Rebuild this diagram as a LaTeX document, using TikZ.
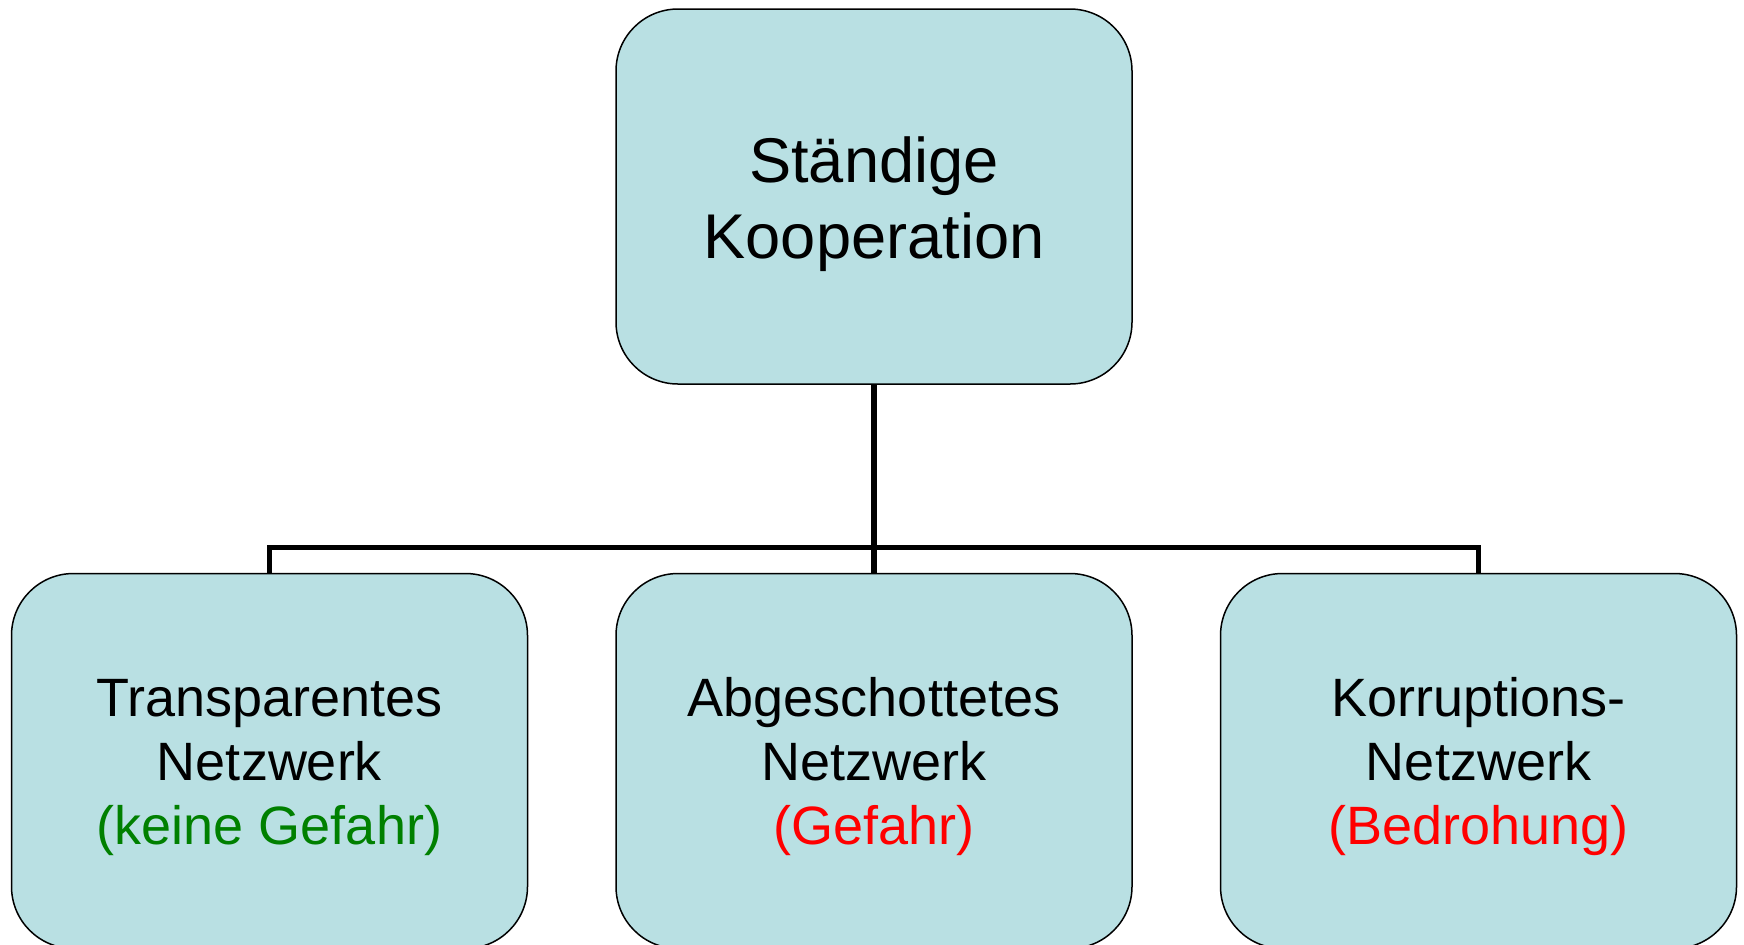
\documentclass[tikz,border=0pt]{standalone}
\usepackage{fontspec}
\setmainfont{Liberation Sans}
\usetikzlibrary{positioning}
\definecolor{kastenblau}{RGB}{185,224,227}
\definecolor{gruen}{RGB}{0,128,0}
\definecolor{rot}{RGB}{255,0,0}

\begin{document}
\begin{tikzpicture}[
kasten/.style={
    draw,
    line width=0.75pt,
    fill=kastenblau,
    rounded corners=31pt,
    align=center,
    minimum width=258pt,
    minimum height=187.5pt,
    inner sep=0pt
},
oben/.style={
    kasten,
    font=\fontsize{31.6}{38}\selectfont
},
unten/.style={
    kasten,
    font=\fontsize{27}{32}\selectfont
},
linie/.style={
    line width=2.6pt
}
]

\useasboundingbox (0,0) rectangle (872pt,-472pt);

% Oberer Kasten
\node[oben] (kooperation) at (437pt,-98.25pt) {
\rule{0pt}{31pt}Ständige\\
Kooperation
};

% Untere Kaesten
\node[unten, below=94pt of kooperation] (abgeschottet) {
\rule{0pt}{25pt}Abgeschottetes\\
Netzwerk\\
\textcolor{rot}{(Gefahr)}
};

\node[unten, left=43.5pt of abgeschottet] (transparent) {
\rule{0pt}{25pt}Transparentes\\
Netzwerk\\
\textcolor{gruen}{(keine Gefahr)}
};

\node[unten, right=43.5pt of abgeschottet] (korruption) {
\rule{0pt}{25pt}Korruptions-\\
Netzwerk\\
\textcolor{rot}{(Bedrohung)}
};

% Verbindungen
\coordinate[below=81.5pt of kooperation.south] (knoten);

\draw[linie]
(kooperation.south) -- (abgeschottet.north);

\draw[linie]
(knoten) -| (transparent.north);

\draw[linie]
(knoten) -| (korruption.north);

\end{tikzpicture}
\end{document}
